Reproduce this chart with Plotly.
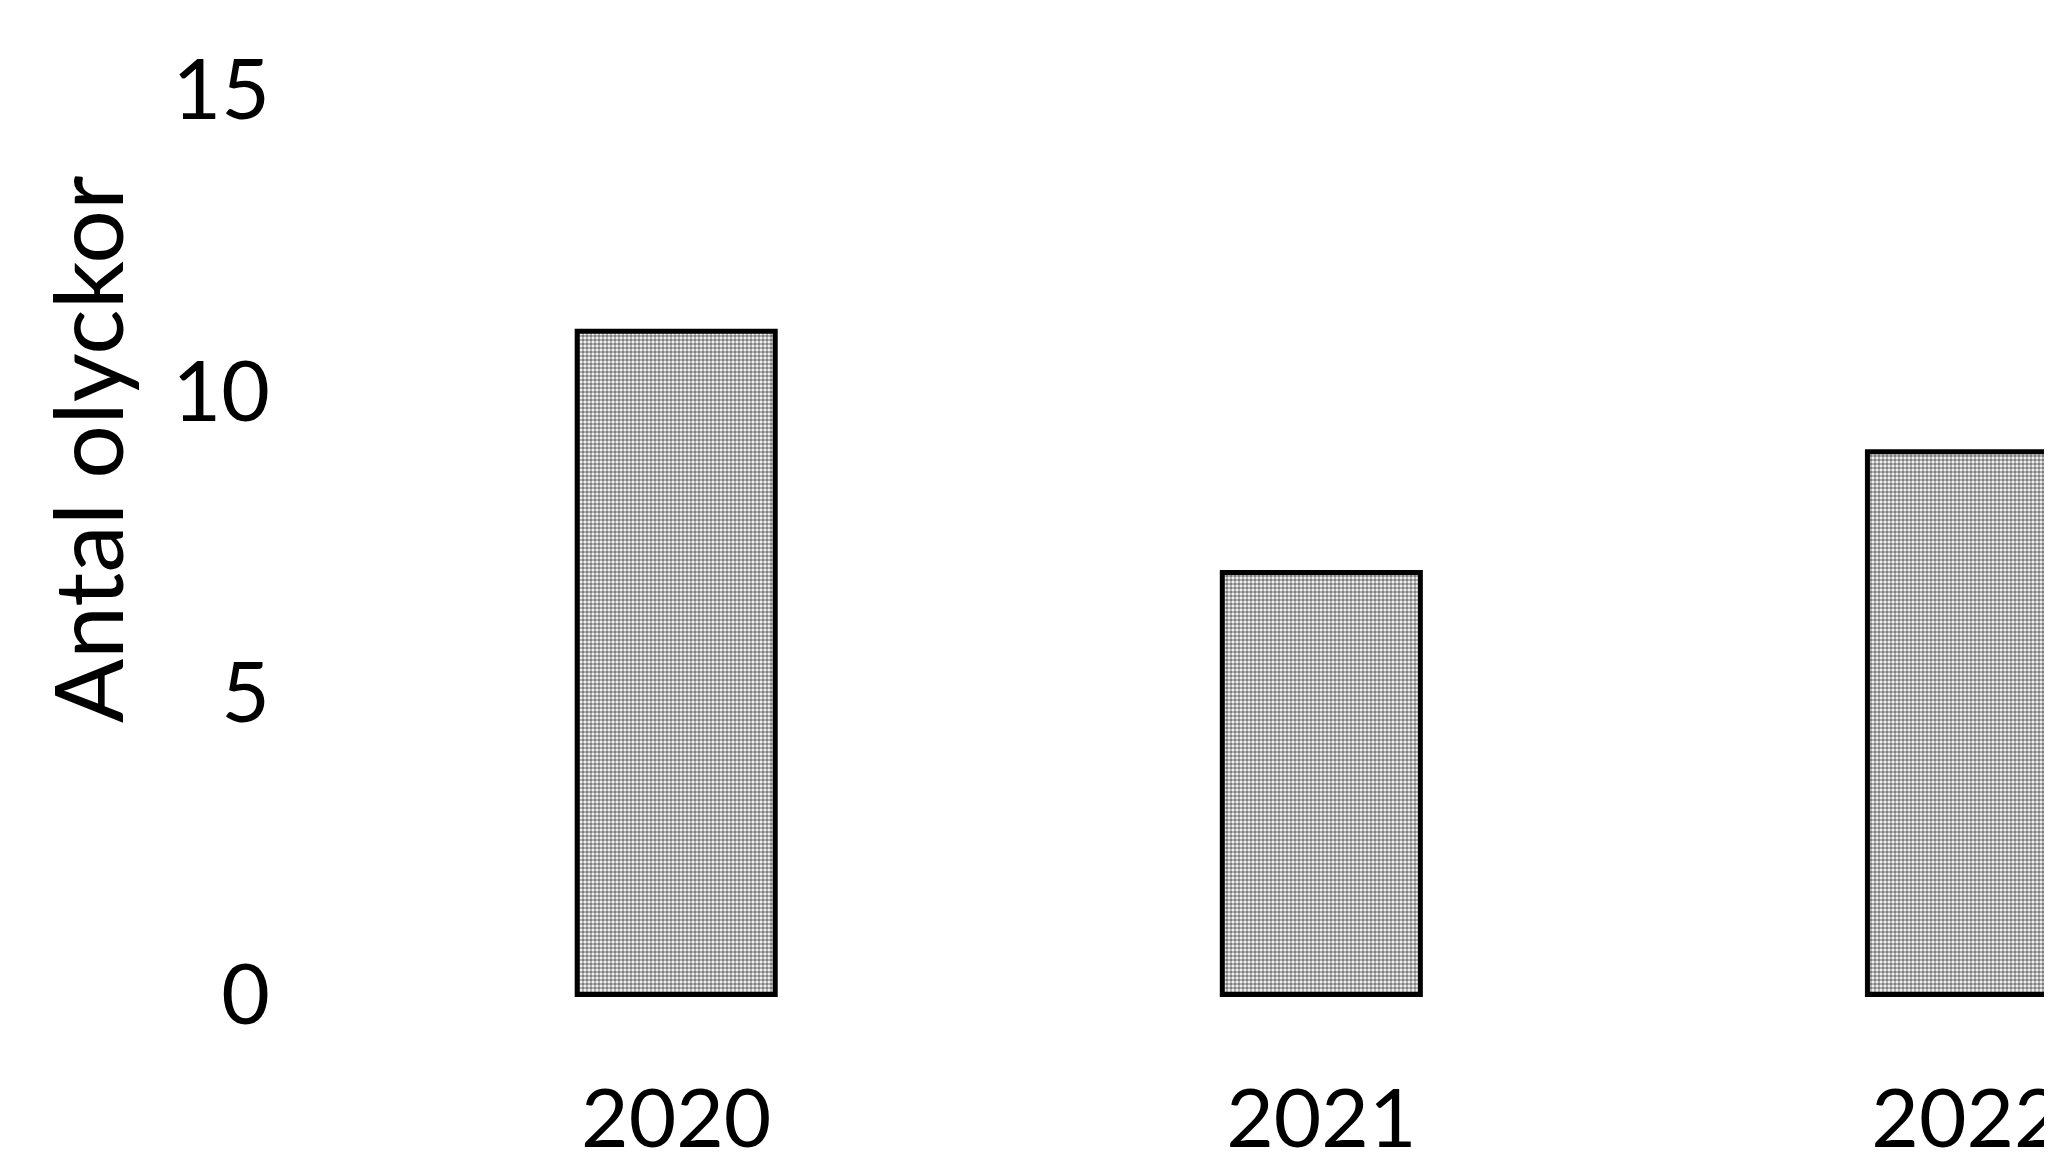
import plotly.graph_objects as go

years = ["2020", "2021", "2022"]
accidents = [11, 7, 9]
y_ticks = [0, 5, 10, 15]
y_title = "Antal olyckor"

W, H = 2052, 1160
ML, MR, MT, MB = 285, 0, 30, 140

fig = go.Figure()
fig.add_trace(go.Bar(
    x=years, y=accidents,
    width=0.307,
    marker=dict(
        color="white",
        line=dict(color="black", width=5),
        pattern=dict(shape=".", fgcolor="#000000", bgcolor="white", size=4, solidity=0.65),
    ),
    hoverinfo="skip",
))

fig.update_layout(
    width=W, height=H,
    margin=dict(l=ML, r=MR, t=MT, b=MB, pad=0),
    paper_bgcolor="white", plot_bgcolor="white",
    showlegend=False,
    font=dict(family="Lato", color="black"),
)
fig.update_xaxes(
    type="category", range=[-0.594, 2.145],
    showgrid=False, showline=False, zeroline=False, ticks="",
    tickfont=dict(size=82, family="Lato", color="black"),
    ticklabelstandoff=36, automargin=False,
)
fig.update_yaxes(
    range=[-0.556, 15.864],
    tickvals=y_ticks, ticktext=[str(v) for v in y_ticks],
    showgrid=False, showline=False, zeroline=False, ticks="",
    tickfont=dict(size=84, family="Lato", color="black"),
    ticklabelstandoff=22, automargin=False,
)
fig.add_annotation(
    text=y_title, textangle=-90, showarrow=False,
    xref="paper", yref="paper", x=-0.117, y=0.585,
    xanchor="center", yanchor="middle",
    font=dict(size=95, family="Lato", color="black"),
)
fig.write_html("out.html")
